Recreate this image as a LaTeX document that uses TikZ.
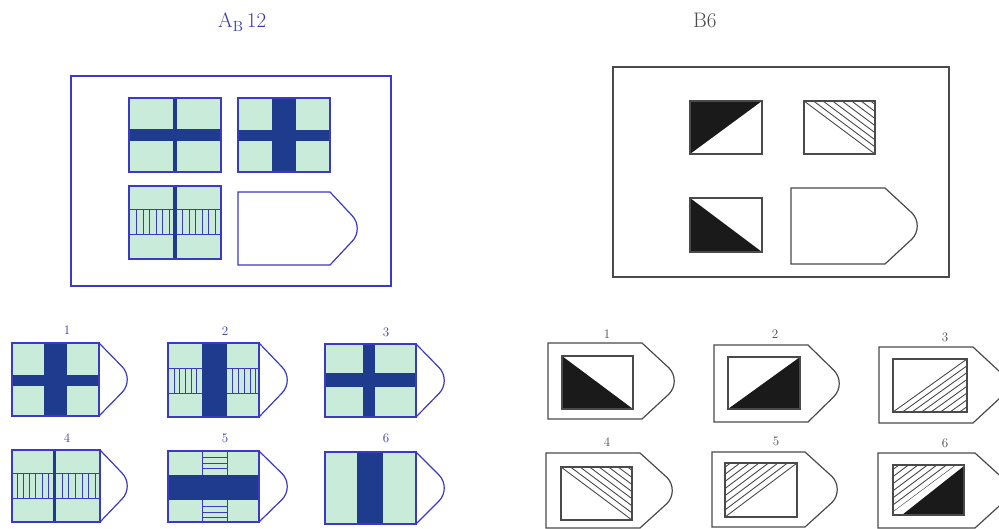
\documentclass[tikz,border=0pt]{standalone}
\usepackage{tikz}
\definecolor{lineblue}{HTML}{3A3AC2}
\definecolor{barblue}{HTML}{1F3B8E}
\definecolor{paleg}{HTML}{C9ECDA}
\definecolor{txtblue}{HTML}{3A3AB0}
\definecolor{rgray}{HTML}{4A4A4A}
\definecolor{blk}{HTML}{1A1A1A}
\newcommand\tagpath[6]{%
  \draw[#1] (#2,#3) -- (#4,#3) -- ({#4+#6-6},{(#3+#5)/2-13})
    .. controls ({#4+#6+1},{(#3+#5)/2-6}) and ({#4+#6+1},{(#3+#5)/2+6}) ..
    ({#4+#6-6},{(#3+#5)/2+13}) -- (#4,#5) -- (#2,#5) -- cycle;}
\tikzset{
  bluetag/.style={draw=lineblue, line width=1.2pt, fill=white},
  graytag/.style={draw=rgray, line width=1.2pt, fill=white},
  sqline/.style={draw=lineblue, line width=1.2pt},
  stripe/.style={draw=lineblue, line width=0.9pt},
  rline/.style={draw=rgray, line width=1.2pt},
  hatch/.style={draw=rgray, line width=0.9pt},
  lbl/.style={font=\fontsize{13}{15}\selectfont, text=txtblue, inner sep=0pt},
  rlbl/.style={font=\fontsize{13}{15}\selectfont, text=rgray, inner sep=0pt},
  ttl/.style={font=\fontsize{21}{25}\selectfont, inner sep=0pt, anchor=base west}
}
\begin{document}
\begin{tikzpicture}[x=1pt,y=-1pt]
\clip (0,0) rectangle (999,529);
\fill[white] (0,0) rectangle (999,529);

% titles
\node[ttl, text=txtblue] (titleA) at (218,28) {A\textsubscript{B}\,12};
\node[ttl, text=rgray] (titleB) at (693,28) {B6};

% ================= LEFT PANEL =================
\draw[sqline] (71,76) rectangle (391,286);
% square a
\fill[paleg] (129,98) rectangle (221,172);
\fill[barblue] (129,129) rectangle (221,141);
\fill[barblue] (173,98) rectangle (177,172);
\draw[sqline] (129,98) rectangle (221,172);
% square b
\fill[paleg] (238,98) rectangle (330,172);
\fill[barblue] (238,130) rectangle (330,141);
\fill[barblue] (272,98) rectangle (296,172);
\draw[sqline] (238,98) rectangle (330,172);
% square c
\fill[paleg] (129,186) rectangle (221,259);
\draw[stripe] (129,209) -- (221,209) (129,234) -- (221,234);
\foreach \x in {136,143,149,156,162,169,182,189,195,202,208,215}
  \draw[stripe] (\x,209) -- (\x,234);
\fill[barblue] (173,186) rectangle (177,259);
\draw[sqline] (129,186) rectangle (221,259);
% empty tag
\tagpath{bluetag}{238}{192}{330}{265}{28}

% ---- left options ----
% 1
\tagpath{bluetag}{12}{343}{99}{416}{29}
\fill[paleg] (12,343) rectangle (99,416);
\fill[barblue] (44,343) rectangle (67,416);
\fill[barblue] (12,375) rectangle (99,386);
\draw[sqline] (12,343) rectangle (99,416);
\node[lbl] (la1) at (67,330) {1};
% 2
\tagpath{bluetag}{168}{343}{259}{417}{29}
\fill[paleg] (168,343) rectangle (259,417);
\draw[stripe] (168,368) -- (259,368) (168,393) -- (259,393);
\foreach \x in {174,179.5,185,191,196.5,232,238,244,250,255}
  \draw[stripe] (\x,368) -- (\x,393);
\fill[barblue] (202,343) rectangle (227,417);
\draw[sqline] (168,343) rectangle (259,417);
\node[lbl] (la2) at (225,331) {2};
% 3
\tagpath{bluetag}{325}{344}{416}{417}{29}
\fill[paleg] (325,344) rectangle (416,417);
\fill[barblue] (363,344) rectangle (375,417);
\fill[barblue] (325,373) rectangle (416,387);
\draw[sqline] (325,344) rectangle (416,417);
\node[lbl] (la3) at (386,332) {3};
% 4
\tagpath{bluetag}{12}{450}{100}{522}{28}
\fill[paleg] (12,450) rectangle (100,522);
\draw[stripe] (12,473) -- (100,473) (12,498) -- (100,498);
\foreach \x in {17,23,29,35,42,48,62,68,75,82,88,95}
  \draw[stripe] (\x,473) -- (\x,498);
\fill[barblue] (53,450) rectangle (56,522);
\draw[sqline] (12,450) rectangle (100,522);
\node[lbl] (la4) at (67,438) {4};
% 5
\tagpath{bluetag}{168}{451}{259}{522}{29}
\fill[paleg] (168,451) rectangle (259,522);
\draw[stripe] (202,451) -- (202,522) (227,451) -- (227,522);
\foreach \y in {457,463,468,506,512,517}
  \draw[stripe] (202,\y) -- (227,\y);
\fill[barblue] (168,475) rectangle (259,500);
\draw[sqline] (168,451) rectangle (259,522);
\node[lbl] (la5) at (225,438) {5};
% 6
\tagpath{bluetag}{325}{452}{416}{524}{29}
\fill[paleg] (325,452) rectangle (416,524);
\fill[barblue] (357,452) rectangle (383,524);
\draw[sqline] (325,452) rectangle (416,524);
\node[lbl] (la6) at (386,438) {6};

% ================= RIGHT PANEL =================
\draw[rline] (613,67) rectangle (949,277);
% square a
\fill[blk] (690,101) -- (762,101) -- (690,154) -- cycle;
\draw[rline] (690,101) rectangle (762,154);
% square b
\begin{scope}
  \clip (804,101) -- (875,101) -- (875,154) -- cycle;
  \foreach \k in {1,...,8} \draw[hatch] ({804+9.5*\k},101) -- ++(71,53);
\end{scope}
\draw[hatch] (804,101) -- (875,154);
\draw[rline] (804,101) rectangle (875,154);
% square c
\fill[blk] (690,198) -- (690,252) -- (762,252) -- cycle;
\draw[rline] (690,198) rectangle (762,252);
% empty tag
\tagpath{graytag}{791}{188}{885}{264}{33}

% ---- right options ----
% 1
\tagpath{graytag}{548}{343}{642}{419}{33}
\fill[blk] (562,356) -- (562,409) -- (633,409) -- cycle;
\draw[rline] (562,356) rectangle (633,409);
\node[rlbl] (lb1) at (607,334) {1};
% 2
\tagpath{graytag}{714}{345}{808}{422}{32}
\fill[blk] (728,409) -- (800,357) -- (800,409) -- cycle;
\draw[rline] (728,357) rectangle (800,409);
\node[rlbl] (lb2) at (775,334) {2};
% 3
\tagpath{graytag}{879}{347}{973}{423}{33}
\begin{scope}
  \clip (893,412) -- (967,359) -- (967,412) -- cycle;
  \foreach \k in {1,...,8} \draw[hatch] ({893+9.5*\k},412) -- ++(74,-53);
\end{scope}
\draw[hatch] (893,412) -- (967,359);
\draw[rline] (893,359) rectangle (967,412);
\node[rlbl] (lb3) at (945,337) {3};
% 4
\tagpath{graytag}{546}{453}{640}{528}{33}
\begin{scope}
  \clip (561,467) -- (632,467) -- (632,520) -- cycle;
  \foreach \k in {1,...,8} \draw[hatch] ({561+9.5*\k},467) -- ++(71,53);
\end{scope}
\draw[hatch] (561,467) -- (632,520);
\draw[rline] (561,467) rectangle (632,520);
\node[rlbl] (lb4) at (607,442) {4};
% 5
\tagpath{graytag}{712}{452}{805}{527}{33}
\begin{scope}
  \clip (725,463) -- (797,463) -- (725,517) -- cycle;
  \foreach \k in {1,...,8} \draw[hatch] ({725-9.5*\k},517) -- ++(72,-54);
\end{scope}
\draw[hatch] (725,517) -- (797,463);
\draw[rline] (725,463) rectangle (797,517);
\node[rlbl] (lb5) at (776,441) {5};
% 6
\tagpath{graytag}{878}{453}{975}{528}{33}
\begin{scope}
  \clip (893,465) -- (956,465) -- (893,512) -- cycle;
  \foreach \k in {0,...,8} \draw[hatch] ({893-9.5*\k},512) -- ++(63,-47);
\end{scope}
\fill[blk] (902,515) -- (964,466) -- (964,515) -- cycle;
\draw[rline] (893,465) rectangle (964,515);
\node[rlbl] (lb6) at (945,443) {6};
\end{tikzpicture}
\end{document}
